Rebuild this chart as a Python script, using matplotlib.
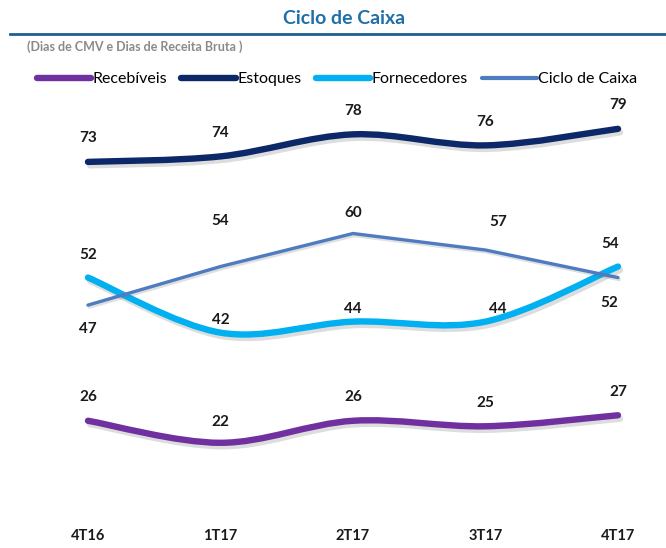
import numpy as np
import matplotlib
matplotlib.use("Agg")
import matplotlib.pyplot as plt
from matplotlib.path import Path
from matplotlib.patches import PathPatch
from matplotlib.lines import Line2D
import matplotlib.patheffects as pe

plt.rcParams['font.family'] = ['Lato', 'DejaVu Sans']

categories = ["4T16", "1T17", "2T17", "3T17", "4T17"]
recebiveis = [26, 22, 26, 25, 27]
estoques = [73, 74, 78, 76, 79]
fornecedores = [52, 42, 44, 44, 54]
ciclo = [47, 54, 60, 57, 52]

title = "Ciclo de Caixa"
subtitle = "(Dias de CMV e Dias de Receita Bruta )"

W, H = 666, 548
fig = plt.figure(figsize=(W / 100, H / 100), dpi=100)
ax = fig.add_axes([20 / W, (H - 510) / H, 640 / W, 450 / H])
ax.set_xlim(-0.513, 4.317)
ax.set_ylim(9.8, 91.5)
for s in ax.spines.values():
    s.set_visible(False)
ax.set_yticks([])
x = np.arange(len(categories))
ax.set_xticks(x)
ax.set_xticklabels(categories, fontsize=10.5, fontweight='bold', color='#1a1a1a')
ax.tick_params(axis='x', length=0, pad=14)

shadow = [pe.SimpleLineShadow(offset=(1.5, -2.5), shadow_color='#666666', alpha=0.22), pe.Normal()]


def smooth_path(xs, ys):
    pts = np.column_stack([xs, ys]).astype(float)
    n = len(pts)
    verts = [pts[0]]
    codes = [Path.MOVETO]
    for i in range(n - 1):
        p0 = pts[i - 1] if i > 0 else pts[i]
        p1 = pts[i]
        p2 = pts[i + 1]
        p3 = pts[i + 2] if i + 2 < n else pts[i + 1]
        c1 = p1 + (p2 - p0) / 6.0
        c2 = p2 - (p3 - p1) / 6.0
        verts += [c1, c2, p2]
        codes += [Path.CURVE4] * 3
    return Path(verts, codes)


series = [
    ("Recebíveis", recebiveis, '#7030A0', 4.6, True),
    ("Estoques", estoques, '#0C2868', 4.6, True),
    ("Fornecedores", fornecedores, '#00B0F0', 4.6, True),
    ("Ciclo de Caixa", ciclo, '#4F7BC0', 2.4, False),
]

for name, vals, col, lw, smooth in series:
    if smooth:
        patch = PathPatch(smooth_path(x, vals), facecolor='none', edgecolor=col,
                          lw=lw, capstyle='round', joinstyle='round', zorder=3)
        patch.set_path_effects(shadow)
        ax.add_patch(patch)
    else:
        ax.plot(x, vals, color=col, lw=lw, solid_capstyle='round', zorder=4,
                path_effects=[pe.SimpleLineShadow(offset=(1, -1.5), shadow_color='#666666', alpha=0.2), pe.Normal()])

# label offsets (points)
offsets = {
    "Recebíveis": [17, 15, 17, 17, 17],
    "Estoques": [17, 17, 17, 17, 17],
    "Fornecedores": [16, 9, 9, 9, 16],
    "Ciclo de Caixa": [-17, 33, 15, 20, -18],
}
dx = {
    "Recebíveis": [0, 0, 0, 0, 0],
    "Estoques": [0, 0, 0, 0, 0],
    "Fornecedores": [0, 0, 0, 9, -6],
    "Ciclo de Caixa": [0, 0, 0, 9, -6],
}
for name, vals, col, lw, smooth in series:
    for i, v in enumerate(vals):
        ax.annotate(str(v), (x[i], v), xytext=(dx[name][i], offsets[name][i]),
                    textcoords='offset points', ha='center', va='center',
                    fontsize=11, fontweight='bold', color='#1a1a1a', zorder=6)

# title, rule, subtitle
fig.text(344 / W, 1 - 19 / H, title, ha='center', va='center', fontsize=14,
         fontweight='bold', color='#1F6FA8')
fig.add_artist(Line2D([10 / W, 1.0], [1 - 34 / H, 1 - 34 / H], color='#1F5F8F', lw=2.0))
fig.text(27 / W, 1 - 47 / H, subtitle, ha='left', va='center', fontsize=9,
         fontweight='bold', color='#8A8A8A')

handles = [Line2D([], [], color=c, lw=4.6 if s else 3, solid_capstyle='round')
           for _, _, c, _, s in series]
fig.legend(handles, [s[0] for s in series], loc='center', bbox_to_anchor=(337 / W, 1 - 79 / H),
           ncol=4, frameon=False, fontsize=11.5, handlelength=3.4, handletextpad=0.1,
           columnspacing=0.9, borderaxespad=0, borderpad=0)

fig.savefig("out.png", dpi=100)
